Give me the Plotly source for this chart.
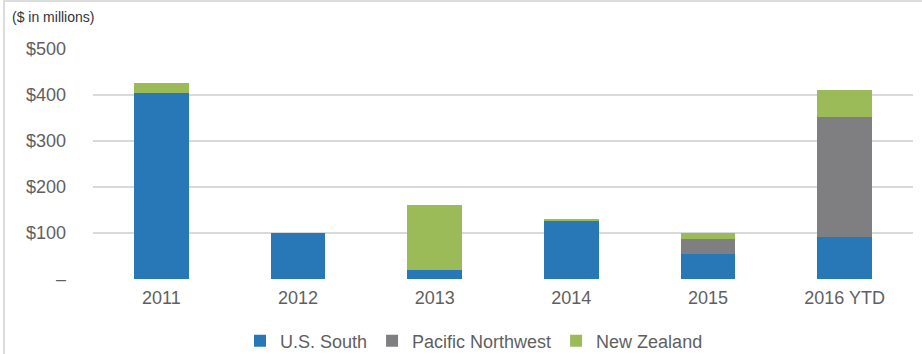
import plotly.graph_objects as go

# Timberland acquisitions by region ($ in millions)
years = ["2011", "2012", "2013", "2014", "2015", "2016 YTD"]
us_south = [405, 100, 20, 127, 55, 92]
pacific_northwest = [0, 0, 0, 0, 32, 260]
new_zealand = [21, 0, 141, 2, 12, 58]

y_tick_vals = [0, 100, 200, 300, 400, 500]
y_tick_text = ["–", "$100", "$200", "$300", "$400", "$500"]

series = [
    ("U.S. South", us_south, "#2878b8"),
    ("Pacific Northwest", pacific_northwest, "#7f7f82"),
    ("New Zealand", new_zealand, "#9bbb59"),
]

fig = go.Figure()
for name, vals, color in series:
    fig.add_trace(go.Bar(
        name=name, x=years, y=vals,
        marker=dict(color=color, line=dict(width=0)),
        width=0.4, hoverinfo="skip",
    ))

W, H = 922, 354
L, R, T, B = 93, 9, 49, 75
pw, ph = W - L - R, H - T - B


def px_x(p):
    return (p - L) / pw


def px_y(p):
    return (H - B - p) / ph


fig.update_layout(
    width=W, height=H,
    margin=dict(l=L, r=R, t=T, b=B, autoexpand=False),
    barmode="stack",
    bargap=0.6,
    paper_bgcolor="white",
    plot_bgcolor="white",
    font=dict(family="Liberation Sans, Arial, sans-serif", color="#5f5f5f", size=18),
    showlegend=True,
    legend=dict(
        orientation="h", traceorder="normal",
        x=px_x(474), xanchor="center",
        y=px_y(341), yanchor="middle",
        font=dict(size=18, color="#5f5f5f"),
        itemclick=False, itemdoubleclick=False,
        tracegroupgap=0,
    ),
    xaxis=dict(
        showgrid=False, zeroline=False, showline=False,
        ticks="", tickfont=dict(size=18, color="#5f5f5f"),
        ticklabelstandoff=6,
    ),
    yaxis=dict(
        range=[0, 500], tickvals=y_tick_vals, ticktext=y_tick_text,
        showgrid=True, gridcolor="#d9d9d9", gridwidth=1.5,
        zeroline=False, showline=False, ticks="",
        tickfont=dict(size=18, color="#5f5f5f"),
        ticklabelstandoff=26,
    ),
    annotations=[dict(
        text="($ in millions)", xref="paper", yref="paper",
        x=px_x(10), y=px_y(17), xanchor="left", yanchor="middle",
        showarrow=False, font=dict(size=14, color="#333333"),
    )],
    shapes=[
        dict(type="line", xref="paper", yref="paper",
             x0=px_x(4), x1=px_x(4), y0=px_y(0), y1=px_y(H),
             line=dict(color="#dcdcdc", width=2)),
        dict(type="line", xref="paper", yref="paper",
             x0=px_x(4), x1=px_x(W), y0=px_y(1), y1=px_y(1),
             line=dict(color="#dcdcdc", width=2)),
    ],
)

fig.write_html("out.html")
